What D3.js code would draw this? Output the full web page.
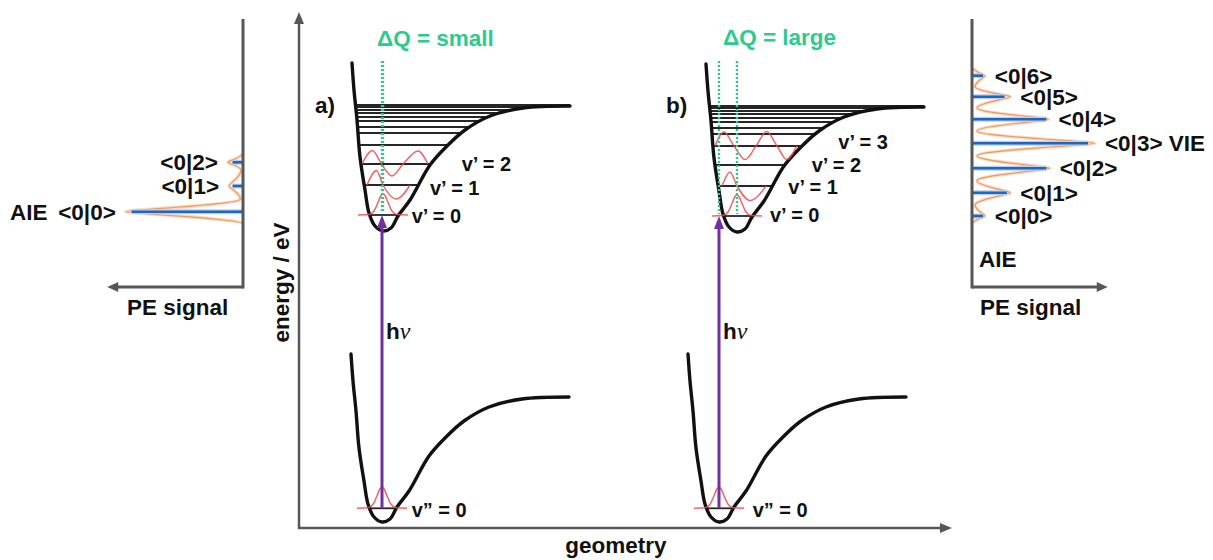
<!DOCTYPE html>
<html lang="en">
<head>
<meta charset="utf-8">
<script src="https://cdn.jsdelivr.net/npm/d3@7"></script>
<style>
  body { margin: 0; background: #fff; }
  svg text { font-family: "Liberation Sans", Arial, sans-serif; font-weight: bold; font-size: 22.5px; fill: #111; }
  svg text.lev { font-size: 20px; }
</style>
</head>
<body>
<div id="chart"></div>
<script>
// ---- values: geometry Q, energy E (arbitrary units) ----

// potential curve shape relative to its minimum, [dQ, dE]
var wellShape = [[-0.31, 1.68], [-0.29, 1.41], [-0.26, 1.11], [-0.23, 0.74], [-0.18, 0.41],
                 [-0.14, 0.18], [-0.08, 0.05], [0, 0], [0.08, 0.03], [0.15, 0.15], [0.27, 0.31],
                 [0.47, 0.66], [0.64, 0.85], [0.82, 1.01], [1.07, 1.15], [1.40, 1.23], [1.87, 1.25]];

// minima of the neutral (lower) and ionic (upper) wells, panels a) and b)
var panels = ["a)", "b)"];
var lowerMin = [[0.83, 0.06], [4.20, 0.06]];
var upperMin = [[0.84, 2.97], [4.38, 2.96]];

// vibrational levels above the well minimum
var upperLevels = [0.16, 0.46, 0.67, 0.86, 0.98, 1.04, 1.10, 1.14, 1.18, 1.21, 1.24, 1.26];
var lowerLevels = [0.137];

// wavefunctions drawn on a level: [dQ from the well minimum, amplitude]
var groundWave = [[-0.25, 0], [-0.14, 0.005], [-0.09, 0.04], [-0.05, 0.125], [-0.02, 0.195], [0, 0.21],
                  [0.02, 0.195], [0.05, 0.125], [0.09, 0.04], [0.14, 0.005], [0.25, 0]];
var waveA1 = [[-0.16, 0], [-0.065, 0.145], [0, 0], [0.135, -0.14], [0.27, 0]];
var waveA2 = [[-0.21, 0], [-0.105, 0.135], [-0.015, 0], [0.09, -0.12], [0.20, 0], [0.35, 0.13], [0.45, 0]];
var waveB1 = [[-0.15, 0], [-0.07, 0.14], [0, 0], [0.13, -0.145], [0.29, 0]];
var waveB3 = [[-0.22, 0], [-0.13, 0.14], [-0.03, 0], [0.08, -0.135], [0.19, 0], [0.297, 0.145],
              [0.40, 0], [0.497, -0.135], [0.597, 0]];
var upperWaves = [[[0, groundWave], [1, waveA1], [2, waveA2]],
                  [[0, groundWave], [1, waveB1], [3, waveB3]]];
var levelNames = ["v\u2019 = 0", "v\u2019 = 1", "v\u2019 = 2", "v\u2019 = 3"];

// photoelectron spectra: peak energy, stick height, envelope tip, envelope valleys [signal, E]
var leftNames = ["<0|0>", "<0|1>", "<0|2>"];
var leftE = [3.163, 3.42, 3.657];
var leftStick = [0.96, 0.09, 0.09];
var leftTip = [1.01, 0.12, 0.13];
var leftValley = [[0, 3.04], [0.023, 3.29], [0.017, 3.58], [0.01, 3.74]];

var rightNames = ["<0|0>", "<0|1>", "<0|2>", "<0|3> VIE", "<0|4>", "<0|5>", "<0|6>"];
var rightE = [3.12, 3.353, 3.597, 3.847, 4.087, 4.313, 4.523];
var rightStick = [0.095, 0.30, 0.64, 1.0, 0.64, 0.28, 0.095];
var rightTip = [0.11, 0.33, 0.67, 1.06, 0.66, 0.33, 0.11];
var rightValley = [[0, 3.04], [0.026, 3.23], [0.043, 3.473], [0.043, 3.723], [0.043, 3.97],
                   [0.043, 4.20], [0.026, 4.413], [0.01, 4.60]];

// ---- layout ----
var svg = d3.select("#chart").append("svg").attr("width", 1213).attr("height", 560);

var x = d3.scaleLinear().domain([0, 6.53]).range([299, 952]);
var y = d3.scaleLinear().domain([0, 5.16]).range([528, 12]);
var sigR = d3.scaleLinear().domain([0, 1]).range([972, 1088]);
var sigL = d3.scaleLinear().domain([0, 1]).range([243, 127]);
var specTop = 5.09, specBottom = 2.41, specMax = 1.17;
var mid = 8; // half cap height, to centre labels on a level

// label anchors [Q, E of baseline]
var levelLabelPos = [[[1.127, 3.053], [1.31, 3.33], [1.627, 3.573]],
                     [[4.71, 3.063], [4.893, 3.343], [5.127, 3.565], [5.393, 3.79]]];
var lowerLabelQ = [1.127, 4.537];
var deltaText = ["\u0394Q = small", "\u0394Q = large"];

var axisColor = "#575757", green = "#2bcb8c", purple = "#7030a0", red = "#f24848";

function arrow(g, x1, y1, x2, y2, color, w, len, half) {
  var dx = x2 - x1, dy = y2 - y1, L = Math.sqrt(dx * dx + dy * dy), ux = dx / L, uy = dy / L;
  var bx = x2 - ux * len, by = y2 - uy * len;
  g.append("line").attr("x1", x1).attr("y1", y1).attr("x2", bx + ux).attr("y2", by + uy)
    .attr("stroke", color).attr("stroke-width", w);
  g.append("path")
    .attr("d", "M" + x2 + "," + y2 + "L" + (bx - uy * half) + "," + (by + ux * half) +
               "L" + (bx + uy * half) + "," + (by - ux * half) + "Z")
    .attr("fill", color);
}

// main axes
var axes = svg.append("g");
arrow(axes, x(0), y(0) + 1, x(0), y(5.16), axisColor, 2.5, 12, 5);
arrow(axes, x(0) - 1, y(0), x(6.53), y(0), axisColor, 2.5, 12, 5);
svg.append("text").attr("text-anchor", "middle")
  .attr("transform", "translate(" + (x(0) - 10) + ",282.5) rotate(-90)").text("energy / eV");
svg.append("text").attr("text-anchor", "middle").attr("x", 616).attr("y", 553).text("geometry");

// branch lookups: energy above minimum -> dQ on each wall
var leftBranch = wellShape.filter(function(d) { return d[0] <= 0; });
var rightBranch = wellShape.filter(function(d) { return d[0] >= 0; });
var leftQ = d3.scaleLinear().domain(leftBranch.map(function(d) { return d[1]; }))
  .range(leftBranch.map(function(d) { return d[0]; })).clamp(true);
var rightQ = d3.scaleLinear().domain(rightBranch.map(function(d) { return d[1]; }))
  .range(rightBranch.map(function(d) { return d[0]; })).clamp(true);

function drawLevels(g, m, levels) {
  g.selectAll(null).data(levels).enter().append("line")
    .attr("x1", function(d) { return x(m[0] + leftQ(d)); })
    .attr("x2", function(d) { return x(m[0] + rightQ(d)); })
    .attr("y1", function(d) { return y(m[1] + d); })
    .attr("y2", function(d) { return y(m[1] + d); })
    .attr("stroke", "#262626").attr("stroke-width", 1.8);
}

function drawWell(g, m) {
  g.append("path").datum(wellShape)
    .attr("d", d3.line()
      .x(function(d) { return x(m[0] + d[0]); })
      .y(function(d) { return y(m[1] + d[1]); })
      .curve(d3.curveCatmullRom.alpha(0.5)))
    .attr("fill", "none").attr("stroke", "#111").attr("stroke-width", 3.4).attr("stroke-linecap", "round");
}

function drawWave(g, m, level, pts) {
  g.append("path").datum(pts)
    .attr("d", d3.line()
      .x(function(d) { return x(m[0] + d[0]); })
      .y(function(d) { return y(m[1] + level + d[1]); })
      .curve(d3.curveMonotoneX))
    .attr("fill", "none").attr("stroke", red).attr("stroke-width", 1.5).attr("opacity", 0.85);
}

panels.forEach(function(name, i) {
  var g = svg.append("g");
  var lo = lowerMin[i], up = upperMin[i];

  drawLevels(g, up, upperLevels);
  drawLevels(g, lo, lowerLevels);
  drawWell(g, up);
  drawWell(g, lo);

  upperWaves[i].forEach(function(w) { drawWave(g, up, upperLevels[w[0]], w[1]); });
  drawWave(g, lo, lowerLevels[0], groundWave);

  // photon arrow
  arrow(g, x(lo[0]), y(lo[1] + lowerLevels[0]), x(lo[0]), y(up[1] + upperLevels[0]), purple, 3, 13, 5);

  // equilibrium geometries
  [lo[0], up[0]].forEach(function(q) {
    g.append("line").attr("x1", x(q)).attr("x2", x(q))
      .attr("y1", y(4.67)).attr("y2", y(up[1] + upperLevels[0]) - 2)
      .attr("stroke", green).attr("stroke-width", 2.4).attr("stroke-dasharray", "2,2");
  });

  g.append("text").attr("x", x(up[0]) - (i ? 71 : 68)).attr("y", y(4.15)).text(name);
  g.append("text").attr("x", x(up[0]) - (i ? 14 : 6)).attr("y", y(i ? 4.835 : 4.82))
    .style("fill", green).text(deltaText[i]);

  var hv = g.append("text").attr("x", x(lo[0]) + 4).attr("y", y(1.89));
  hv.append("tspan").text("h");
  hv.append("tspan").style("font-family", "'Liberation Serif', serif").style("font-style", "italic")
    .style("font-weight", "normal").style("font-size", "24px").text("\u03bd");

  levelLabelPos[i].forEach(function(p, k) {
    g.append("text").attr("class", "lev").attr("x", x(p[0])).attr("y", y(p[1])).text(levelNames[k]);
  });
  g.append("text").attr("class", "lev").attr("x", x(lowerLabelQ[i]))
    .attr("y", y(lo[1] + lowerLevels[0]) + mid + 1).text("v\u201D = 0");
});

// ---- photoelectron spectra ----
// envelope: bell-shaped lobe from each valley out to the peak tip and back
function envelope(sig, valley, E, tip) {
  var p = d3.path(), tipK = 0.15, valK = 0.45;
  var vx = sig(valley[0][0]), vy = y(valley[0][1]);
  p.moveTo(vx, vy);
  E.forEach(function(e, i) {
    var tx = sig(tip[i]), ty = y(e);
    p.bezierCurveTo(vx, vy + (ty - vy) * valK, tx, ty - (ty - vy) * tipK, tx, ty);
    vx = sig(valley[i + 1][0]);
    vy = y(valley[i + 1][1]);
    p.bezierCurveTo(tx, ty + (vy - ty) * tipK, vx, vy - (vy - ty) * valK, vx, vy);
  });
  return p.toString();
}

function drawSpectrum(sig, E, stick, tip, valley, names, side) {
  var g = svg.append("g");
  var d = envelope(sig, valley, E, tip);
  g.append("path").attr("d", d).attr("fill", "none")
    .attr("stroke", "#fcdcc6").attr("stroke-width", 3.5);
  g.append("path").attr("d", d).attr("fill", "none")
    .attr("stroke", "#f09a62").attr("stroke-width", 1.2);

  g.selectAll(null).data(E).enter().append("line")
    .attr("x1", sig(0)).attr("x2", function(d, i) { return sig(stick[i]); })
    .attr("y1", function(d) { return y(d); }).attr("y2", function(d) { return y(d); })
    .attr("stroke", "#b7d0ee").attr("stroke-width", 5);
  g.selectAll(null).data(E).enter().append("line")
    .attr("x1", sig(0)).attr("x2", function(d, i) { return sig(stick[i]); })
    .attr("y1", function(d) { return y(d); }).attr("y2", function(d) { return y(d); })
    .attr("stroke", "#1f66c1").attr("stroke-width", 2.6);

  g.selectAll(null).data(E).enter().append("text")
    .attr("x", function(d, i) { return sig(tip[i]) + side * 10; })
    .attr("y", function(d) { return y(d) + mid; })
    .attr("text-anchor", side > 0 ? "start" : "end")
    .text(function(d, i) { return names[i]; });

  // axes
  g.append("line").attr("x1", sig(0)).attr("x2", sig(0))
    .attr("y1", y(specTop)).attr("y2", y(specBottom) + 1.5)
    .attr("stroke", axisColor).attr("stroke-width", 3);
  arrow(g, sig(0), y(specBottom), sig(specMax), y(specBottom), axisColor, 3, 11, 5);
  return g;
}

var gl = drawSpectrum(sigL, leftE, leftStick, leftTip, leftValley, leftNames, -1);
gl.append("text").attr("x", 10).attr("y", y(leftE[0]) + mid).text("AIE");
gl.append("text").attr("x", 127).attr("y", 315).text("PE signal");

var gr = drawSpectrum(sigR, rightE, rightStick, rightTip, rightValley, rightNames, 1);
gr.append("text").attr("x", 979).attr("y", 267).text("AIE");
gr.append("text").attr("x", 980).attr("y", 315).text("PE signal");
</script>
</body>
</html>
